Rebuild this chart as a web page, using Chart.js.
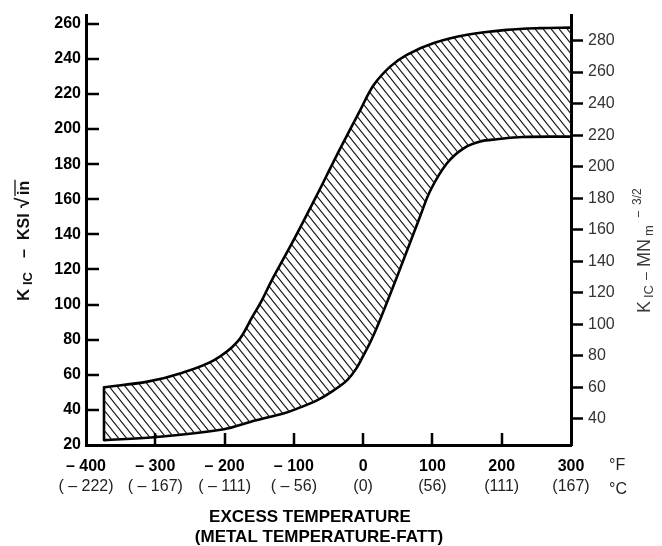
<!DOCTYPE html>
<html>
<head>
<meta charset="utf-8">
<script src="https://cdn.jsdelivr.net/npm/chart.js@4.4.1/dist/chart.umd.min.js"></script>
<style>
  html, body { margin: 0; padding: 0; background: #fff; }
  canvas { display: block; }
</style>
</head>
<body>
<canvas id="chart" width="662" height="546"></canvas>
<script>
// Temperature axis (°F) with the matching °C values printed underneath
const FAHR_TICKS = [-400, -300, -200, -100, 0, 100, 200, 300];
const FAHR_LABELS = ['– 400', '– 300', '– 200', '– 100', '0', '100', '200', '300'];
const CELS_LABELS = ['( – 222)', '( – 167)', '( – 111)', '( – 56)', '(0)', '(56)', '(111)', '(167)'];

// Toughness axes: ksi·√in on the left, MN·m^-3/2 on the right
const KSI_TICKS = [20, 40, 60, 80, 100, 120, 140, 160, 180, 200, 220, 240, 260];
const MN_TICKS = [40, 60, 80, 100, 120, 140, 160, 180, 200, 220, 240, 260, 280];

// Upper bound of the scatter band (°F, ksi·√in)
const UPPER_F = [-374, -311, -263, -215, -181, -160, -146, -133, -100, -66, -47, -33, -4, 15, 39, 63, 102, 150, 207, 255, 300];
const UPPER_KSI = [52.9, 56.1, 60.9, 68.4, 79, 93, 102.6, 113, 137, 163, 178, 189, 211, 225, 235.6, 242.3, 249, 253.7, 256.5, 257.5, 257.8];

// Lower bound of the scatter band (°F, ksi·√in)
const LOWER_F = [-374, -302, -201, -162, -114, -100, -66, -42, -23, -10, 1, 12, 24, 50, 82, 97, 121, 145, 169, 193, 230, 300];
const LOWER_KSI = [22.8, 24.4, 29, 33.3, 38.1, 40, 45.6, 51.3, 57, 63.5, 71.5, 80, 91, 117, 150, 165, 180.5, 189, 192.9, 194.2, 195.5, 195.7];

const FONT = "'Liberation Sans', Arial, Helvetica, sans-serif";
Chart.defaults.font.family = FONT;
Chart.defaults.color = '#000';

const toPoints = (xs, ys) => xs.map((x, i) => ({ x, y: ys[i] }));
const upperPts = toPoints(UPPER_F, UPPER_KSI);
const lowerPts = toPoints(LOWER_F, LOWER_KSI);
const edgePts = [
  { x: LOWER_F[0], y: LOWER_KSI[0] },
  { x: UPPER_F[0], y: UPPER_KSI[0] }
];

// Diagonal hatching used to fill the band
function makeHatch() {
  const W = 8, H = 10;
  const c = document.createElement('canvas');
  c.width = W; c.height = H;
  const g = c.getContext('2d');
  g.strokeStyle = '#1a1a1a';
  g.lineWidth = 1.1;
  g.beginPath();
  for (const dx of [-W, 0, W]) {
    g.moveTo(dx - W, -H);
    g.lineTo(dx + 2 * W, 2 * H);
  }
  g.stroke();
  return document.getElementById('chart').getContext('2d').createPattern(c, 'repeat');
}

// Draw a run of text pieces along a vertical baseline (reading bottom to top)
function drawVertical(ctx, x0, y0, parts) {
  ctx.save();
  ctx.translate(x0, y0);
  ctx.rotate(-Math.PI / 2);
  ctx.textAlign = 'left';
  ctx.textBaseline = 'alphabetic';
  for (const p of parts) {
    ctx.font = p.font;
    ctx.fillStyle = p.color;
    ctx.fillText(p.text, p.s, p.dy || 0);
    if (p.over) {
      const w = ctx.measureText(p.text).width;
      ctx.strokeStyle = p.color;
      ctx.lineWidth = 1.3;
      ctx.beginPath();
      ctx.moveTo(p.s - 1, p.over);
      ctx.lineTo(p.s + w + 1, p.over);
      ctx.stroke();
    }
  }
  ctx.restore();
}

const frameDecor = {
  id: 'frameDecor',
  afterDraw(chart) {
    const { ctx, chartArea: a, scales: { x, y } } = chart;
    ctx.save();
    // inward tick marks on the left and bottom axes
    ctx.strokeStyle = '#000';
    ctx.lineWidth = 2.5;
    ctx.beginPath();
    KSI_TICKS.forEach(v => {
      if (v === KSI_TICKS[0]) return;
      const py = Math.round(y.getPixelForValue(v));
      ctx.moveTo(a.left, py);
      ctx.lineTo(a.left + 13, py);
    });
    FAHR_TICKS.forEach((v, i) => {
      if (i === 0 || i === FAHR_TICKS.length - 1) return;
      const px = Math.round(x.getPixelForValue(v));
      ctx.moveTo(px, a.bottom);
      ctx.lineTo(px, a.bottom - 12);
    });
    ctx.stroke();

    // unit markers next to the temperature labels
    ctx.fillStyle = '#222';
    ctx.font = '16px ' + FONT;
    ctx.textAlign = 'left';
    ctx.textBaseline = 'middle';
    ctx.fillText('°F', 609, 466);
    ctx.fillText('°C', 609, 490);

    // temperature axis title
    ctx.fillStyle = '#000';
    ctx.font = 'bold 17px ' + FONT;
    ctx.textAlign = 'center';
    ctx.fillText('EXCESS TEMPERATURE', 310, 517);
    ctx.fillText('(METAL TEMPERATURE-FATT)', 319, 537);

    // left axis title: K_IC – KSI √in
    const lb = 'bold 16px ' + FONT;
    drawVertical(ctx, 29, 302, [
      { text: 'K', s: 1, font: 'bold 17px ' + FONT, color: '#111' },
      { text: 'IC', s: 17, dy: 3, font: 'bold 13px ' + FONT, color: '#111' },
      { text: '–', s: 44, font: lb, color: '#111' },
      { text: 'KSI', s: 62, font: lb, color: '#111' },
      { text: '√', s: 94, font: 'bold 19px ' + FONT, color: '#111' },
      { text: 'in', s: 107, font: lb, color: '#111', over: -14 }
    ]);

    // right axis title: K_IC – MN_m^-3/2
    const rf = '18px ' + FONT;
    const rc = '#3a3a3a';
    drawVertical(ctx, 650, 313, [
      { text: 'K', s: 0, font: rf, color: rc },
      { text: 'IC', s: 15, dy: 3, font: '13px ' + FONT, color: rc },
      { text: '–', s: 33, font: '14px ' + FONT, color: rc },
      { text: 'MN', s: 46, font: rf, color: rc },
      { text: 'm', s: 77, dy: 3, font: '13px ' + FONT, color: rc },
      { text: '−', s: 95, dy: -7, font: '13px ' + FONT, color: rc },
      { text: '3/2', s: 108, dy: -9, font: '12px ' + FONT, color: rc }
    ]);
    ctx.restore();
  }
};

const hatch = makeHatch();

const fixedTicks = list => scale => { scale.ticks = list.map(v => ({ value: v })); };

const curveStyle = {
  borderColor: '#000',
  borderWidth: 2.6,
  pointRadius: 0,
  tension: 0.35,
  xAxisID: 'x',
  yAxisID: 'y'
};

new Chart(document.getElementById('chart'), {
  type: 'line',
  data: {
    datasets: [
      { label: 'upper', data: upperPts, ...curveStyle, fill: '+1', backgroundColor: hatch },
      { label: 'lower', data: lowerPts, ...curveStyle, fill: false },
      { label: 'edge', data: edgePts, ...curveStyle, tension: 0, borderCapStyle: 'round', fill: false }
    ]
  },
  options: {
    responsive: false,
    animation: false,
    devicePixelRatio: 1,
    layout: { padding: { top: 15, left: 0, right: 0, bottom: 0 } },
    plugins: { legend: { display: false }, tooltip: { enabled: false } },
    scales: {
      x: {
        type: 'linear',
        position: 'bottom',
        min: -400,
        max: 300,
        afterBuildTicks: fixedTicks(FAHR_TICKS),
        afterFit: s => { s.height = 30; },
        grid: { display: false, drawTicks: false },
        border: { display: true, width: 3, color: '#000' },
        ticks: {
          padding: 12,
          autoSkip: false,
          maxRotation: 0,
          color: '#000',
          font: { size: 16, weight: 'bold' },
          callback: v => FAHR_LABELS[FAHR_TICKS.indexOf(v)]
        }
      },
      xc: {
        type: 'linear',
        position: 'bottom',
        min: -400,
        max: 300,
        afterBuildTicks: fixedTicks(FAHR_TICKS),
        afterFit: s => { s.height = 71; },
        grid: { display: false, drawTicks: false },
        border: { display: false },
        ticks: {
          padding: 2,
          autoSkip: false,
          maxRotation: 0,
          color: '#222',
          font: { size: 16 },
          callback: v => CELS_LABELS[FAHR_TICKS.indexOf(v)]
        }
      },
      y: {
        type: 'linear',
        position: 'left',
        min: 20,
        max: 265,
        afterBuildTicks: fixedTicks(KSI_TICKS),
        afterFit: s => { s.width = 86; },
        grid: { display: false, drawTicks: false },
        border: { display: true, width: 3, color: '#000' },
        ticks: {
          padding: 5,
          color: '#000',
          font: { size: 16, weight: 'bold' }
        }
      },
      y2: {
        type: 'linear',
        position: 'right',
        min: 23.4,
        max: 296.2,
        afterBuildTicks: fixedTicks(MN_TICKS),
        afterFit: s => { s.width = 91; },
        grid: {
          display: true,
          drawOnChartArea: false,
          drawTicks: true,
          tickLength: 12,
          tickWidth: 2.5,
          tickColor: '#000'
        },
        border: { display: true, width: 3, color: '#000' },
        ticks: {
          padding: 5,
          color: '#333',
          font: { size: 16 }
        }
      }
    }
  },
  plugins: [frameDecor]
});
</script>
</body>
</html>
